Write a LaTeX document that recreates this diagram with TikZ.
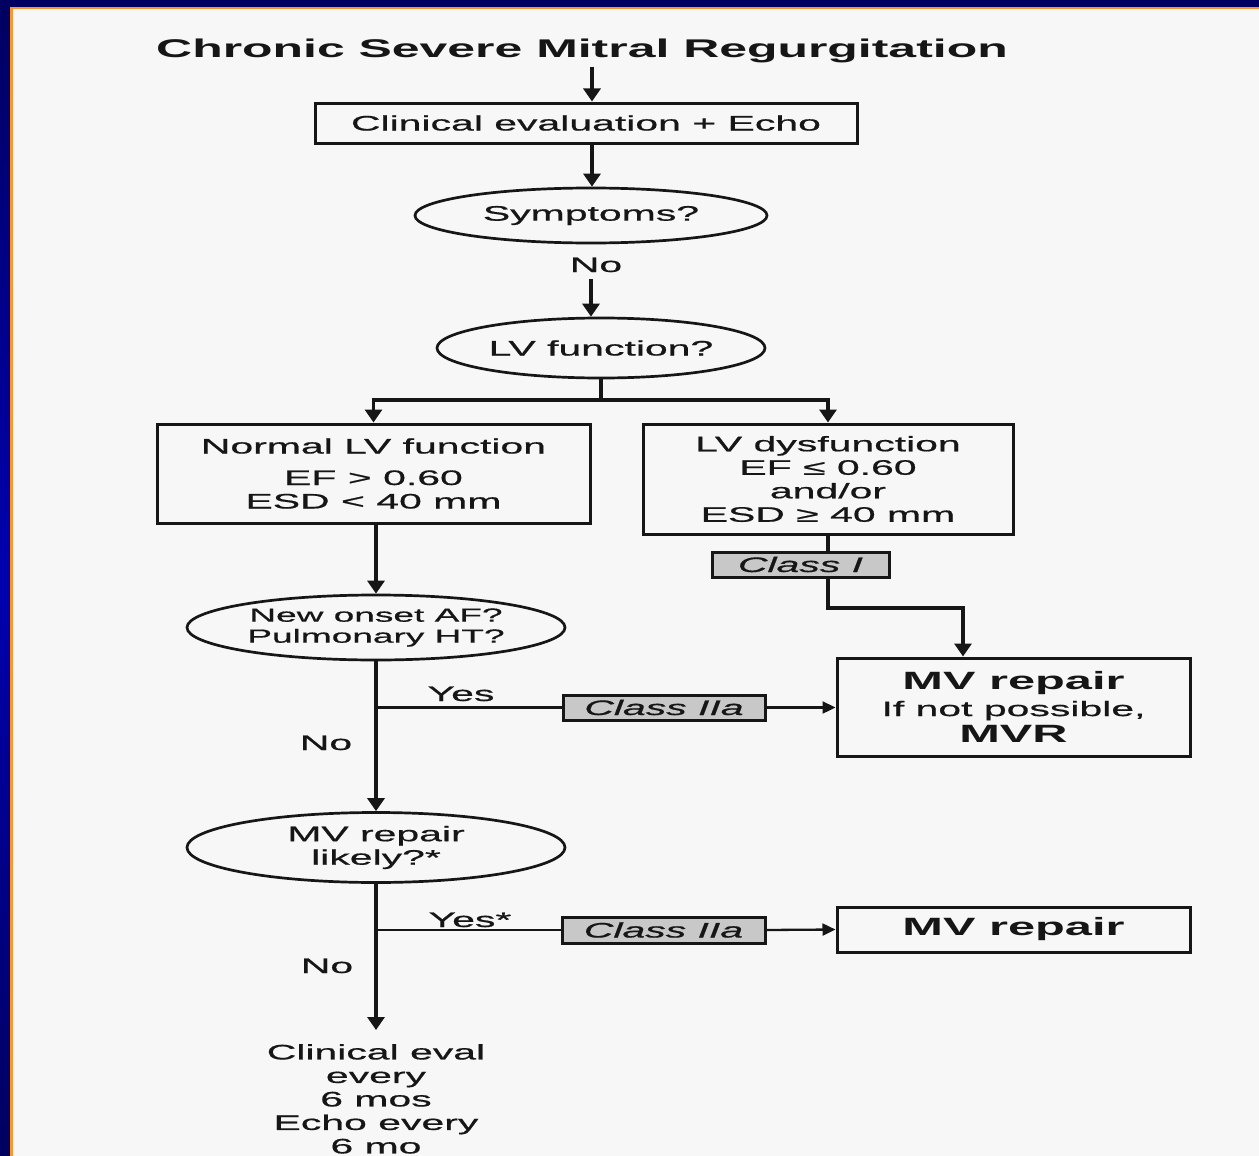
\documentclass[tikz,border=0pt]{standalone}
\usepackage{fontspec}
\setmainfont{Liberation Sans}[FakeStretch=1.95,
  UprightFeatures={FakeBold=0.7},
  ItalicFeatures={FakeBold=0.7}]
\usetikzlibrary{arrows.meta,shapes.geometric,calc}
\definecolor{navy}{RGB}{0,0,96}
\definecolor{bluemid}{RGB}{0,0,175}
\definecolor{orng}{RGB}{250,150,50}
\definecolor{paper}{RGB}{247,247,247}
\definecolor{ink}{RGB}{22,22,22}
\definecolor{classgray}{RGB}{200,200,200}
\begin{document}
\begin{tikzpicture}[x=1pt,y=-1pt,
  txt/.style={font=\fontsize{21}{23.5}\selectfont, text=ink, inner sep=0pt, align=center},
  bx/.style={txt, draw=ink, line width=3pt},
  ell/.style={txt, ellipse, draw=ink, line width=2.7pt},
  cls/.style={txt, draw=ink, fill=classgray, line width=3pt, font=\fontsize{21}{23.5}\selectfont\itshape},
  lbl/.style={txt, anchor=base},
  arr/.style={draw=ink, line width=3.2pt, -{Triangle[length=13pt,width=17pt]}},
  harr/.style={draw=ink, line width=2.3pt, -{Triangle[length=13pt,width=12pt]}},
  hline/.style={draw=ink, line width=2.3pt},
  vline/.style={draw=ink, line width=3.2pt},
  bigb/.style={font=\fontsize{25}{27}\selectfont\bfseries}
]
\useasboundingbox (0,0) rectangle (1259,1156);
% frame
\fill[navy] (0,0) rectangle (1259,1156);
\shade[top color=navy, bottom color=navy, middle color=bluemid] (0,0) rectangle (10,1156);
\fill[orng] (10,7) rectangle (1259,9.5);
\fill[orng] (10,7) rectangle (12.5,1156);
\fill[paper] (12.5,9.5) rectangle (1259,1156);

% title
\node[lbl, font=\fontsize{25.6}{28}\selectfont\bfseries, text=ink] (title) at (582,58) {Chronic Severe Mitral Regurgitation};
\coordinate (cx) at (592,0);
\coordinate (cy) at (591,0);

% nodes
\node[bx, minimum width=542, minimum height=40] (box1) at (586,123) {Clinical evaluation + Echo};
\node[ell, minimum width=352, minimum height=55] (sym) at (591,215.5) {Symptoms?};
\node[lbl] (no1) at (596,272) {No};
\node[ell, minimum width=328, minimum height=60] (lvf) at (601,348) {LV function?};
\coordinate (split) at (601,400);

\node[bx, minimum width=433, minimum height=99] (norm) at (373.5,473.5)
  {Normal LV function\\[8pt] EF > 0.60\\ ESD < 40 mm};
\node[bx, minimum width=370, minimum height=110] (dys) at (828,479)
  {LV dysfunction\\ EF ≤ 0.60\\ and/or\\ ESD ≥ 40 mm};
\node[cls, minimum width=177, minimum height=25] (classI) at (800.5,564.5) {Class I};
\coordinate (k1) at (963,608);

\node[bx, minimum width=353, minimum height=98, font=\fontsize{21}{26.5}\selectfont] (mvr) at (1013.5,707)
  {{\fontsize{25}{26.5}\selectfont\bfseries MV repair}\\ If not possible,\\ {\fontsize{25}{26.5}\selectfont\bfseries MVR}};

\node[ell, minimum width=378, minimum height=65, font=\fontsize{19}{21}\selectfont] (af) at (376,627.5)
  {New onset AF?\\ Pulmonary HT?};
\node[cls, minimum width=202, minimum height=25] (c2a) at (664,707.5) {Class IIa};
\node[lbl] (yes1) at (461,701) {Yes};
\node[lbl] (no2) at (326,750) {No};

\node[ell, minimum width=378, minimum height=70] (mvl) at (376,847.5)
  {MV repair\\ likely?*};
\node[cls, minimum width=203, minimum height=26] (c2b) at (663.5,930) {Class IIa};
\node[lbl] (yes2) at (470,927) {Yes*};
\node[lbl] (no3) at (327,973) {No};
\node[bx, minimum width=353, minimum height=45, bigb] (mv2) at (1013.5,929.5) {MV repair};

\node[txt, anchor=north] (fin) at (376,1044)
  {Clinical eval\\ every\\ 6 mos\\ Echo every\\ 6 mo};
\coordinate (e5) at (376,1030);

% connectors
\draw[arr] (title.south -| cx) ++(0,3) -- (box1.north -| cx);
\draw[arr] (box1.south -| cx) -- (sym.north -| cx);
\draw[arr, shorten <=7pt] (no1.south -| cy) -- (lvf.north -| cy);
\draw[vline] (lvf.south) -- (split);
\draw[arr] (split) -| (norm.north);
\draw[arr] (split) -| (dys.north);
\draw[vline] (dys.south) -- (dys.south |- classI.north);
\draw[arr] (dys.south |- classI.south) |- (k1) -- (k1 |- mvr.north);
\draw[arr] (af.north |- norm.south) -- (af.north);
\draw[arr] (af.south) -- (mvl.north);
\draw[hline] (af.south |- c2a.west) -- (c2a.west);
\draw[harr] (c2a.east) -- (c2a.east -| mvr.west);
\draw[arr] (mvl.south) -- (e5);
\draw[hline] (mvl.south |- c2b.west) -- (c2b.west);
\draw[harr] (c2b.east) -- (mv2.west);
\end{tikzpicture}
\end{document}
